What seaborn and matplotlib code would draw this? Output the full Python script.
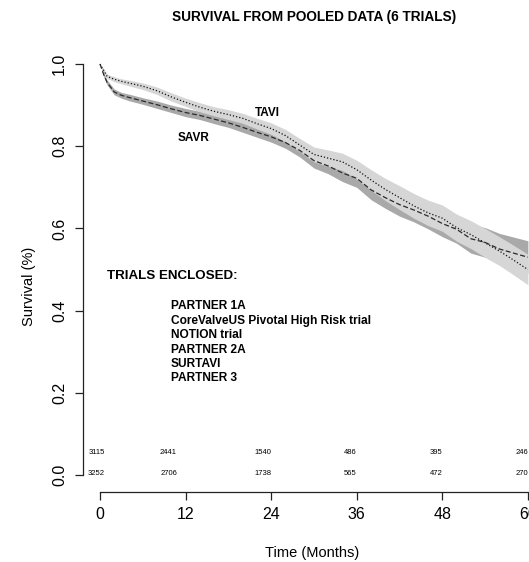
import numpy as np
import pandas as pd
import matplotlib
matplotlib.use("Agg")
import matplotlib.pyplot as plt
import seaborn as sns

# ---------------- data ----------------
months = [0, 0.5, 1, 2, 3, 4, 6, 8, 10, 12, 14, 16, 18, 20, 22, 24, 26, 28, 30, 32,
          34, 36, 38, 40, 42, 44, 46, 48, 50, 52, 54, 56, 58, 60]
tavi = [1.000, 0.985, 0.970, 0.963, 0.958, 0.954, 0.946, 0.935, 0.920, 0.907,
        0.895, 0.885, 0.877, 0.868, 0.855, 0.843, 0.826, 0.803, 0.780, 0.771,
        0.762, 0.743, 0.718, 0.695, 0.675, 0.655, 0.638, 0.625, 0.602, 0.585,
        0.565, 0.545, 0.523, 0.500]
tavi_hw = [0.000, 0.004, 0.005, 0.006, 0.006, 0.007, 0.008, 0.009, 0.010, 0.010,
           0.011, 0.011, 0.012, 0.012, 0.013, 0.014, 0.015, 0.016, 0.018, 0.020,
           0.021, 0.023, 0.025, 0.027, 0.029, 0.030, 0.031, 0.032, 0.033, 0.034,
           0.035, 0.035, 0.036, 0.037]
savr = [1.000, 0.975, 0.955, 0.932, 0.924, 0.919, 0.910, 0.901, 0.891, 0.882,
        0.875, 0.866, 0.857, 0.846, 0.834, 0.823, 0.809, 0.790, 0.765, 0.752,
        0.735, 0.722, 0.694, 0.675, 0.658, 0.645, 0.630, 0.612, 0.598, 0.575,
        0.566, 0.550, 0.540, 0.530]
savr_hw = [0.000, 0.005, 0.006, 0.007, 0.007, 0.008, 0.008, 0.009, 0.009, 0.010,
           0.010, 0.011, 0.011, 0.012, 0.012, 0.013, 0.014, 0.016, 0.018, 0.019,
           0.021, 0.022, 0.024, 0.026, 0.028, 0.029, 0.031, 0.032, 0.034, 0.035,
           0.036, 0.038, 0.039, 0.040]

x_ticks = [0, 12, 24, 36, 48, 60]
y_ticks = [0.0, 0.2, 0.4, 0.6, 0.8, 1.0]
risk_tavi = ["3115", "2441", "1540", "486", "395", "246"]
risk_savr = ["3252", "2706", "1738", "565", "472", "270"]
risk_x = [0.7, 10.8, 24, 36, 48, 60]
trials = ["PARTNER 1A", "CoreValveUS Pivotal High Risk trial", "NOTION trial",
          "PARTNER 2A", "SURTAVI", "PARTNER 3"]

df = pd.DataFrame({
    "Time": months * 2,
    "Survival": tavi + savr,
    "Group": ["TAVI"] * len(months) + ["SAVR"] * len(months),
})

# ---------------- style ----------------
sns.set_style("white")
plt.rcParams["font.family"] = ["Liberation Sans", "DejaVu Sans"]
plt.rcParams["text.color"] = "black"
plt.rcParams["xtick.color"] = "black"
plt.rcParams["ytick.color"] = "black"

W, H = 529, 562
fig = plt.figure(figsize=(W / 100, H / 100), dpi=100)
left, right, top, bottom = 82.9, 545.0, 47.6, 491.5
ax = fig.add_axes([left / W, 1 - bottom / H, (right - left) / W, (bottom - top) / H])

m = np.array(months)
t = np.array(tavi); th = np.array(tavi_hw)
s = np.array(savr); sh = np.array(savr_hw)

ax.fill_between(m, s - sh, s + sh, color="#a9a9a9", lw=0, zorder=1)
ax.fill_between(m, t - th, t + th, color="#d6d6d6", lw=0, zorder=2)

sns.lineplot(data=df, x="Time", y="Survival", hue="Group", style="Group",
             palette={"TAVI": "#111111", "SAVR": "#2a2a2a"},
             dashes={"TAVI": (1, 1.6), "SAVR": (4, 2)},
             linewidth=0.9, legend=False, ax=ax, zorder=3)

ax.set_xlim(-2.4, 62.4)
ax.set_ylim(-0.04, 1.04)
ax.set_xticks(x_ticks)
ax.set_yticks(y_ticks)
ax.set_xticklabels([str(v) for v in x_ticks], fontsize=11.5)
ax.set_yticklabels([f"{v:.1f}" for v in y_ticks], fontsize=11.5, rotation=90, va="center")
ax.set_xlabel("")
ax.set_ylabel("")

for side in ["top", "right"]:
    ax.spines[side].set_visible(False)
ax.spines["left"].set_bounds(0, 1)
ax.spines["bottom"].set_bounds(0, 60)
for side in ["left", "bottom"]:
    ax.spines[side].set_color("#222222")
    ax.spines[side].set_linewidth(0.9)
ax.tick_params(axis="both", direction="out", length=5.5, width=0.9, color="#222222",
               left=True, bottom=True)
ax.tick_params(axis="x", pad=6)
ax.tick_params(axis="y", pad=6)

# numbers at risk
for xv, a, b in zip(risk_x, risk_tavi, risk_savr):
    ax.text(xv, 0.055, a, fontsize=5.5, ha="right", va="center", color="black")
    ax.text(xv, 0.004, b, fontsize=5.5, ha="right", va="center", color="black")

# curve labels
ax.text(23.4, 0.882, "TAVI", fontsize=8.5, fontweight="bold", ha="center", va="center")
ax.text(13.15, 0.821, "SAVR", fontsize=8.5, fontweight="bold", ha="center", va="center")

# trials box
ax.text(0.94, 0.484, "TRIALS ENCLOSED:", fontsize=9.6, fontweight="bold",
        ha="left", va="center")
trial_y = [0.4116, 0.3745, 0.3406, 0.305, 0.271, 0.237]
for yv, name in zip(trial_y, trials):
    ax.text(9.95, yv, name, fontsize=8.6, fontweight="bold", ha="left", va="center")

# titles / axis labels
fig.text(314 / W, 1 - 17 / H, "SURVIVAL FROM POOLED DATA (6 TRIALS)", fontsize=9.8,
         fontweight="bold", ha="center", va="center")
fig.text(312.5 / W, 1 - 553 / H, "Time (Months)", fontsize=10.5, ha="center", va="center")
fig.text(29 / W, 1 - 286 / H, "Survival (%)", fontsize=10.5, ha="center", va="center",
         rotation=90)

fig.savefig("out.png", dpi=100)
